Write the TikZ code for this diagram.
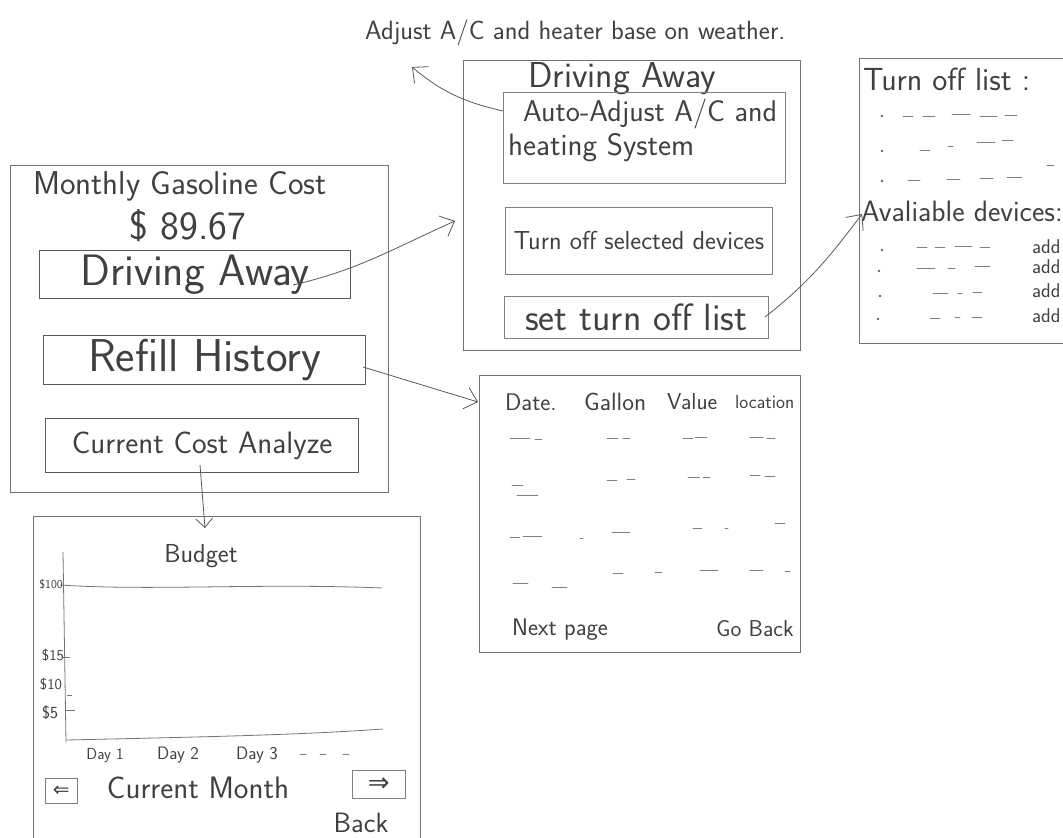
\documentclass[tikz,border=0pt]{standalone}
\usepackage{fontspec}
\newfontfamily\symf{DejaVu Sans}
\usetikzlibrary{arrows.meta}
\newcommand{\hwf}[1]{\fontsize{#1}{#1}\selectfont\sffamily}
\tikzset{
  pencil/.style={draw=black!55, line width=0.8pt},
  screen/.style={draw=black!55, line width=0.8pt, rectangle, inner sep=0pt, anchor=north west},
  btn/.style={draw=black!65, line width=1.2pt, rectangle, inner sep=0pt, anchor=north west, text=black!75},
  sub/.style={draw=black!50, line width=0.7pt, rectangle, inner sep=0pt, anchor=north west, text=black!75},
  hw/.style={text=black!75, inner sep=0pt},
  conn/.style={draw=black!65, line width=0.8pt, -{Straight Barb[length=12pt,width=22pt]}},
  scribble/.style={draw=black!50, line width=0.8pt, line cap=round}
}
\begin{document}
\begin{tikzpicture}[x=1pt,y=-1pt]
\useasboundingbox (0,0) rectangle (1063,838);
\clip (0,0) rectangle (1063,838);

% ---------- main screen ----------
\node[screen, minimum width=378pt, minimum height=327pt] (M) at (10,165) {};
\node[hw, font={\hwf{33}}] (Mtitle) at (180,186) {Monthly Gasoline Cost};
\node[hw, font={\hwf{40}}] (Mcost) at (188,226) {\$ 89.67};
\node[btn, minimum width=311pt, minimum height=48pt, font={\hwf{44}}] (bDA) at (39,250) {Driving Away};
\node[btn, minimum width=322pt, minimum height=49pt, font={\hwf{46}}] (bRH) at (43,335) {Refill History};
\node[btn, minimum width=313pt, minimum height=54pt, font={\hwf{31}}] (bCC) at (45,418) {Current Cost Analyze};

% ---------- annotation ----------
\node[hw, font={\hwf{26.4}}, anchor=west] (ann) at (365,33) {Adjust A/C and heater base on weather.};

% ---------- driving away screen ----------
\node[screen, minimum width=337pt, minimum height=290pt] (DA) at (463,60) {};
\node[hw, font={\hwf{36}}] (DAtitle) at (622,79) {Driving Away};
\node[sub, minimum width=282pt, minimum height=91pt] (AA) at (503,92) {};
\node[hw, font={\hwf{30}}, anchor=west] (AA1) at (523,114) {Auto-Adjust A/C and};
\node[hw, font={\hwf{31}}, anchor=west] (AA2) at (508,148) {heating System};
\node[sub, minimum width=267pt, minimum height=67pt, font={\hwf{26}}] (TS) at (505,207) {Turn off selected devices};
\node[sub, minimum width=264pt, minimum height=42pt, font={\hwf{38}}] (ST) at (504,296) {set turn off list};

% ---------- turn off list screen ----------
\node[screen, minimum width=230pt, minimum height=285pt] (T) at (859,58) {};
\node[hw, font={\hwf{32}}, anchor=west] (Ttitle) at (863,79) {Turn off list :};
\node[hw, font={\hwf{29.5}}, anchor=west] (Tavail) at (861,211) {Avaliable devices:};
\foreach \y/\n in {247/1,267/2,291/3,316/4}
  \node[hw, font={\hwf{20}}, anchor=west] (add\n) at (1032,\y) {add};
\foreach \x/\y in {882/116,882/151,882/181,882/250,879/271,880/296,878/319}
  \fill[black!60] (\x,\y) circle (1.3pt);
\foreach \a/\b/\y in {903/913/116,923/935/116,952/970/114,980/997/116,1005/1017/115,
                      920/930/150,948/953/146,977/995/142,1002/1013/140,1047/1054/165,
                      908/920/180,947/960/179,980/993/178,1007/1022/177,
                      917/927/247,935/945/247,955/972/246,980/990/247,
                      917/935/268,948/955/268,975/990/266,
                      933/948/293,958/962/293,973/982/292,
                      930/940/318,955/960/317,972/982/317}
  \draw[scribble] (\a,\y) -- (\b,\y);

% ---------- refill history screen ----------
\node[screen, minimum width=321pt, minimum height=277pt] (R) at (479,375) {};
\node[hw, font={\hwf{24}}, anchor=west] (Rdate) at (505,402) {Date.};
\node[hw, font={\hwf{25}}, anchor=west] (Rgal) at (584,402) {Gallon};
\node[hw, font={\hwf{23}}, anchor=west] (Rval) at (667,402) {Value};
\node[hw, font={\hwf{19}}, anchor=west] (Rloc) at (735,402) {location};
\node[hw, font={\hwf{24}}, anchor=west] (Rnext) at (512,630) {Next page};
\node[hw, font={\hwf{23}}, anchor=west] (Rback) at (716,629) {Go Back};
\foreach \a/\b/\y in {510/530/438,535/542/439,607/618/438,623/630/438,683/693/438,695/707/437,750/763/437,767/775/438,
                      512/523/485,517/538/495,607/617/480,627/635/479,688/700/477,703/710/477,750/760/475,765/775/476,
                      510/520/537,523/542/536,580/583/538,612/630/532,693/702/528,725/728/528,775/785/523,
                      513/528/583,552/567/587,613/623/573,655/662/572,700/718/570,750/763/570,785/790/571}
  \draw[scribble] (\a,\y) -- (\b,\y);

% ---------- budget screen ----------
\node[screen, minimum width=387pt, minimum height=340pt] (B) at (33,516) {};
\node[hw, font={\hwf{26}}] (Btitle) at (201,556) {Budget};
\draw[pencil] (63,552) -- (66,742);
\draw[pencil] (60,585) .. controls (150,591) and (260,583) .. (382,588);
\draw[pencil] (66,740) .. controls (200,737) and (300,735) .. (383,729);
\draw[pencil] (63,657) -- (70,657);
\draw[pencil] (67,695) -- (72,695);
\draw[pencil] (65,710) -- (75,710);
\node[hw, font={\hwf{12}}, anchor=east] (y100) at (63,584) {\$100};
\node[hw, font={\hwf{15}}] (y15) at (53,655) {\$15};
\node[hw, font={\hwf{15}}] (y10) at (51,684) {\$10};
\node[hw, font={\hwf{17}}] (y5) at (50,713) {\$5};
\node[hw, font={\hwf{16}}] (d1) at (105,756) {Day 1};
\node[hw, font={\hwf{18}}] (d2) at (178,755) {Day 2};
\node[hw, font={\hwf{18}}] (d3) at (257,755) {Day 3};
\foreach \a/\b in {300/306,320/326,343/349}
  \draw[scribble] (\a,754) -- (\b,754);
\node[sub, minimum width=32pt, minimum height=25pt, font={\symf\fontsize{20}{20}\selectfont}] (Lb) at (45,778) {⇐};
\node[hw, font={\hwf{31}}] (cm) at (198,788) {Current Month};
\node[sub, minimum width=53pt, minimum height=28pt, font={\symf\fontsize{26}{26}\selectfont}] (Rb) at (352,770) {⇒};
\node[hw, font={\hwf{28}}] (bk) at (361,823) {Back};

% ---------- connectors ----------
\coordinate (c1s) at (293,285);
\coordinate (c1e) at (455,221);
\draw[conn] (c1s) to[out=13, in=204] (c1e);

\coordinate (c2s) at (363,367);
\coordinate (c2e) at (478,402);
\draw[conn] (c2s) -- (c2e);

\coordinate (c3s) at (200,465);
\coordinate (c3e) at (205,528);
\draw[conn, -{Straight Barb[length=9pt,width=17pt]}] (c3s) -- (c3e);

\coordinate (c4s) at (765,317);
\coordinate (c4e) at (862,214);
\draw[conn] (c4s) to[out=38, in=233] (c4e);

\coordinate (c5s) at (503,111);
\coordinate (c5e) at (412,67);
\draw[conn] (c5s) to[out=167, in=-40] (c5e);
\end{tikzpicture}
\end{document}
